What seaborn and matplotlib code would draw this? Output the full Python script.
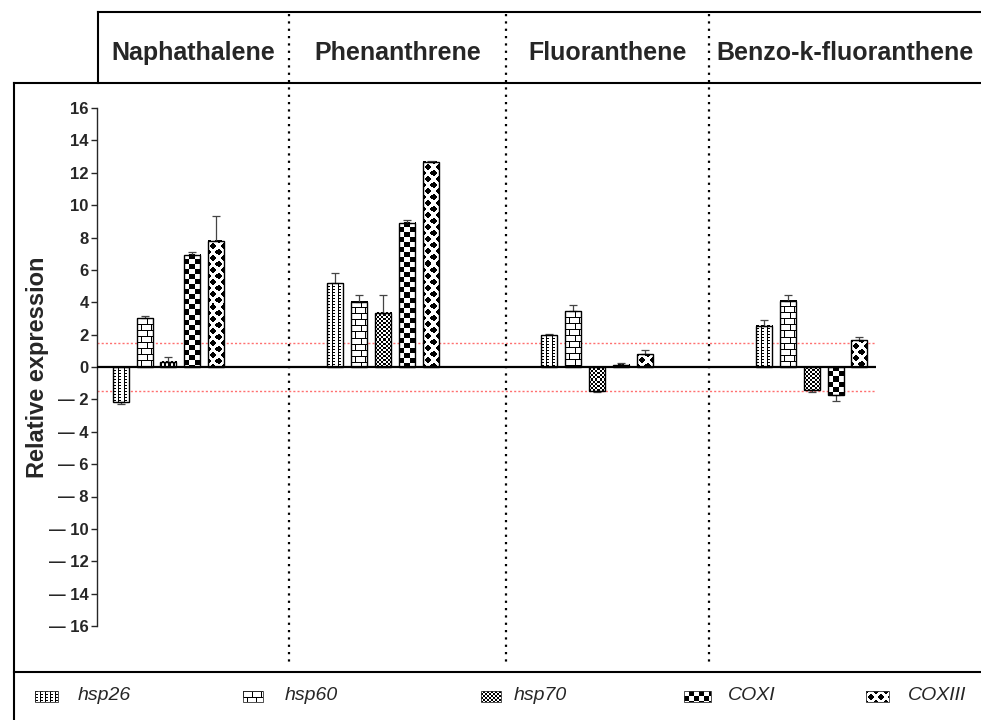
import numpy as np
import pandas as pd
import matplotlib
matplotlib.use('Agg')
import matplotlib.pyplot as plt
import seaborn as sns
from matplotlib.patches import Rectangle

sns.set_style('ticks')
plt.rcParams['font.family'] = ['Liberation Sans', 'DejaVu Sans']

# datos
compounds = ['Naphathalene', 'Phenanthrene', 'Fluoranthene', 'Benzo-k-fluoranthene']
genes = ['hsp26', 'hsp60', 'hsp70', 'COXI', 'COXIII']
naph = [-2.15, 3.0, 0.33, 6.93, 7.8]
phen = [5.18, 4.04, 3.36, 8.9, 12.67]
fluo = [1.96, 3.45, -1.49, 0.14, 0.78]
benzo = [2.54, 4.1, -1.4, -1.73, 1.65]
naph_err = [0.15, 0.15, 0.3, 0.2, 1.5]
phen_err = [0.65, 0.43, 1.08, 0.18, 0.05]
fluo_err = [0.1, 0.4, 0.05, 0.1, 0.25]
benzo_err = [0.37, 0.34, 0.15, 0.4, 0.22]
threshold = 1.5
yticks = list(range(16, -17, -2))

values = [naph, phen, fluo, benzo]
errors = [naph_err, phen_err, fluo_err, benzo_err]
df = pd.DataFrame({
    'compound': np.repeat(compounds, len(genes)),
    'gene': genes * len(compounds),
    'value': np.concatenate(values),
    'err': np.concatenate(errors),
})


# patrones de relleno (1 = negro)
def checker(c):
    yy, xx = np.mgrid[0:2 * c, 0:2 * c]
    return ((yy // c + xx // c) % 2).astype(float)


def diamonds(w=10, h=12, r=3.6):
    yy, xx = np.mgrid[0:h, 0:w] + 0.5
    d = np.full((h, w), 99.0)
    for cx, cy in [(0, 0), (w, 0), (0, h), (w, h), (w / 2, h / 2)]:
        d = np.minimum(d, np.abs(xx - cx) + np.abs(yy - cy))
    return (d <= r).astype(float)


hsp26_tile = np.array([[1, 1, 1, 0, 0],
                       [1, 0, 0, 0, 0],
                       [1, 0, 0, 0, 0]], float)
brick = np.zeros((12, 9))
brick[0, :] = 1
brick[1:6, 0] = 1
brick[6, :] = 1
brick[7:12, 4] = 1

tiles = {
    'hsp26': hsp26_tile,
    'hsp60': brick,
    'hsp70': checker(2),
    'COXI': checker(5),
    'COXIII': diamonds(),
}


def fill(t, ny, nx):
    reps = (ny // t.shape[0] + 1, nx // t.shape[1] + 1)
    return np.tile(t, reps)[:ny, :nx]


fig = plt.figure(figsize=(9.81, 7.2), dpi=100)
ax = fig.add_axes([97 / 981, 1 - 626 / 720, 779 / 981, 518 / 720])

sns.barplot(data=df, x='compound', y='value', hue='gene', order=compounds,
            hue_order=genes, width=0.557, gap=0.33, palette=['white'] * 5,
            edgecolor='black', linewidth=1, errorbar=None, legend=False, ax=ax)

xlim = (-0.333, 3.30)
ax.set_xlim(*xlim)
ax.set_ylim(-16, 16)

p0 = ax.transData.transform((0, 0))
p1 = ax.transData.transform((1, 1))
sx, sy = p1[0] - p0[0], p1[1] - p0[1]

for cont, gene in zip(ax.containers, genes):
    errs = df[df['gene'] == gene]['err'].values
    for rect, e in zip(cont, errs):
        x, w, h = rect.get_x(), rect.get_width(), rect.get_height()
        y0 = rect.get_y()
        bot, top = min(y0, y0 + h), max(y0, y0 + h)
        nx = max(1, int(round(w * sx)))
        ny = max(1, int(round(abs(h) * sy)))
        ax.imshow(1 - fill(tiles[gene], ny, nx), cmap='gray', vmin=0, vmax=1,
                  extent=(x, x + w, bot, top), interpolation='nearest',
                  aspect='auto', zorder=1.5)
        rect.set_facecolor('none')
        rect.set_zorder(2)
        yerr = [[0], [e]] if h >= 0 else [[e], [0]]
        ax.errorbar(x + w / 2, h, yerr=yerr, fmt='none', ecolor='#444444',
                    elinewidth=0.9, capsize=3, capthick=0.9, zorder=1.8)

ax.set_xlim(*xlim)
ax.set_ylim(-16, 16)

ax.axhline(0, color='black', lw=1.6, zorder=3)
for yv in (threshold, -threshold):
    ax.axhline(yv, color='#ff7070', lw=1, ls=(0, (1.5, 1.5)), zorder=1)

sns.despine(ax=ax, bottom=True)
ax.spines['left'].set_linewidth(1)
ax.set_xticks([])
ax.set_xlabel('')
ax.set_yticks(yticks)
ax.set_yticklabels([str(t) if t >= 0 else '\u2014 ' + str(-t) for t in yticks],
                   fontsize=12, fontweight='bold')
ax.tick_params(axis='y', length=4, width=1, pad=2)
ax.set_ylabel('Relative expression', fontsize=17, fontweight='bold')
ax.yaxis.set_label_coords((38 - 97) / 779, 0.5)
ax.yaxis.label.set_va('center')

# marco, cabecera y leyenda en coordenadas de pixel
ov = fig.add_axes([0, 0, 1, 1], facecolor='none')
ov.set_xlim(0, 981)
ov.set_ylim(720, 0)
ov.axis('off')

frame = [([98, 981], [12, 12]), ([98, 98], [12, 83]), ([14, 981], [83, 83]),
         ([14, 14], [83, 720]), ([14, 981], [672, 672])]
for xs, ys in frame:
    ov.plot(xs, ys, color='black', lw=1.5, solid_capstyle='projecting')

bounds = [98, 289, 506, 709, 981]
for bx in bounds[1:-1]:
    ov.plot([bx, bx], [14, 665], color='black', lw=1.6, ls=(0, (1, 2.3)))
for i, name in enumerate(compounds):
    ov.text((bounds[i] + bounds[i + 1]) / 2, 53, name, ha='center', va='center',
            fontsize=18, fontweight='bold')

leg_patch = [(35, 58), (243, 263), (481, 501), (684, 711), (866, 889)]
leg_text = [78, 285, 514, 728, 908]
for gene, (a, b), tx in zip(genes, leg_patch, leg_text):
    ov.imshow(1 - fill(tiles[gene], 11, b - a), cmap='gray', vmin=0, vmax=1,
              extent=(a, b, 702, 691), interpolation='nearest', aspect='auto')
    ov.add_patch(Rectangle((a, 691), b - a, 11, facecolor='none',
                           edgecolor='#333333', lw=0.6))
    ov.text(tx, 696, gene, ha='left', va='center', fontsize=14, style='italic')
ov.set_xlim(0, 981)
ov.set_ylim(720, 0)

fig.savefig('out.png', dpi=100)
